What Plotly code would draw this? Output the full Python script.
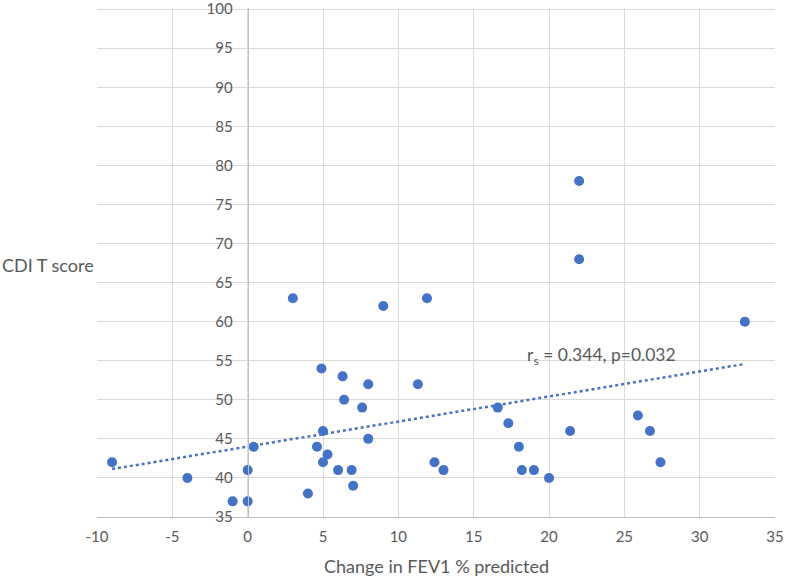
import numpy as np
import plotly.graph_objects as go

fev1_change = [-9, -4, -1, 0, 0, 0.4, 3, 4, 4.6, 4.9, 5, 5, 5.3, 6, 6.3, 6.4, 6.9, 7,
               7.6, 8, 8, 9, 11.3, 11.9, 12.4, 13, 16.6, 17.3, 18, 18.2, 19, 20, 21.4,
               22, 22, 25.9, 26.7, 27.4, 33]
cdi_t = [42, 40, 37, 37, 41, 44, 63, 38, 44, 54, 46, 42, 43, 41, 53, 50, 41, 39,
         49, 52, 45, 62, 52, 63, 42, 41, 49, 47, 44, 41, 41, 40, 46,
         78, 68, 48, 46, 42, 60]

x_ticks = list(range(-10, 36, 5))
x_ticktext = [str(v) for v in x_ticks]
y_ticks = list(range(35, 101, 5))

blue = "#4472C4"
txt = "#595959"
font_family = "Lato, 'Open Sans', sans-serif"

slope, intercept = np.polyfit(fev1_change, cdi_t, 1)
tx = [min(fev1_change), max(fev1_change)]
ty = [slope * v + intercept for v in tx]

fig = go.Figure()
fig.add_trace(go.Scatter(x=tx, y=ty, mode="lines",
                         line=dict(color=blue, width=2.5, dash="dot"),
                         hoverinfo="skip", showlegend=False))
fig.add_trace(go.Scatter(x=fev1_change, y=cdi_t, mode="markers",
                         marker=dict(color=blue, size=10),
                         showlegend=False))

x0_frac = (0 - x_ticks[0]) / (x_ticks[-1] - x_ticks[0])

fig.update_layout(
    width=785, height=577,
    margin=dict(l=97, r=10, t=8, b=60),
    plot_bgcolor="white", paper_bgcolor="white",
    font=dict(family=font_family, color=txt, size=15),
    xaxis=dict(range=[x_ticks[0], x_ticks[-1]], tickvals=x_ticks, ticktext=x_ticktext,
               showgrid=True, gridcolor="#D9D9D9", gridwidth=1,
               zeroline=False, showline=True, linecolor="#BFBFBF", linewidth=1,
               mirror=False, ticks="", tickfont=dict(size=15, color=txt),
               ticklabelstandoff=6, domain=[0, 1], automargin=False),
    yaxis=dict(range=[y_ticks[0], y_ticks[-1] + 0.15], tickvals=y_ticks,
               anchor="free", position=x0_frac, ticklabeloverflow="allow",
               automargin=False,
               showgrid=True, gridcolor="#D9D9D9", gridwidth=1,
               zeroline=False, showline=True, linecolor="#BFBFBF", linewidth=1,
               ticks="", tickfont=dict(size=15, color=txt), ticklabelstandoff=12),
    annotations=[
        dict(text="CDI T score", xref="paper", yref="y", x=-0.143, y=67.3,
             xanchor="left", yanchor="middle", showarrow=False,
             font=dict(size=18, color=txt)),
        dict(text="Change in FEV1 % predicted", xref="paper", yref="paper",
             x=0.501, y=-0.096, xanchor="center", yanchor="middle", showarrow=False,
             font=dict(size=18, color=txt)),
        dict(text="r<sub>s</sub> = 0.344, p=0.032", xref="x", yref="y",
             x=23.5, y=55.6, xanchor="center", yanchor="middle", showarrow=False,
             font=dict(size=17.5, color=txt)),
    ],
)

fig.write_html("out.html")
